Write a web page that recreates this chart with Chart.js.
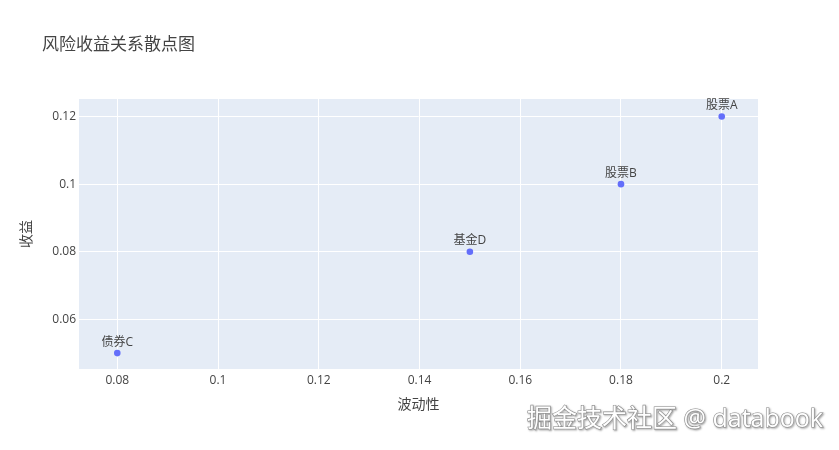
<!DOCTYPE html>
<html>
<head>
<meta charset="utf-8">
<script src="https://cdn.jsdelivr.net/npm/chart.js@4/dist/chart.umd.min.js"></script>
<style>
  html, body { margin: 0; padding: 0; background: #ffffff; }
  #wrap { width: 839px; height: 450px; position: relative; }
</style>
</head>
<body>
<div id="wrap"><canvas id="chart" width="839" height="450"></canvas></div>
<script>
// Assets: name, volatility (x) and return (y)
const assetNames = ['股票A', '股票B', '债券C', '基金D'];
const volatility = [0.20, 0.18, 0.08, 0.15];
const returns = [0.12, 0.10, 0.05, 0.08];

// Axis ticks and ranges
const xTicks = [0.08, 0.10, 0.12, 0.14, 0.16, 0.18, 0.20];
const yTicks = [0.06, 0.08, 0.10, 0.12];
const xRange = [0.0724, 0.2072];
const yRange = [0.0453, 0.1252];

const chartTitle = '风险收益关系散点图';
const xTitle = '波动性';
const yTitle = '收益';
const watermark = '掘金技术社区 @ databook';

const FONT = '"Open Sans", "Noto Sans CJK SC", sans-serif';
const TEXT = '#444444';

const points = volatility.map((v, i) => ({ x: v, y: returns[i] }));

const decorPlugin = {
  id: 'decor',
  beforeDraw(chart) {
    const { ctx, chartArea: a } = chart;
    ctx.save();
    ctx.fillStyle = '#E5ECF6';
    ctx.fillRect(a.left, a.top, a.right - a.left, a.bottom - a.top);
    ctx.restore();
  },
  afterDatasetsDraw(chart) {
    const { ctx } = chart;
    const meta = chart.getDatasetMeta(0);
    ctx.save();
    ctx.font = '12px ' + FONT;
    ctx.fillStyle = TEXT;
    ctx.textAlign = 'center';
    ctx.textBaseline = 'bottom';
    meta.data.forEach((pt, i) => {
      ctx.fillText(assetNames[i], pt.x, pt.y - 5);
    });
    ctx.restore();
  },
  afterDraw(chart) {
    const { ctx } = chart;
    ctx.save();
    // chart title
    ctx.font = '17px ' + FONT;
    ctx.fillStyle = TEXT;
    ctx.textAlign = 'left';
    ctx.textBaseline = 'middle';
    ctx.fillText(chartTitle, 42, 45);
    // watermark
    ctx.font = '25px ' + FONT;
    ctx.textAlign = 'right';
    ctx.textBaseline = 'middle';
    ctx.shadowColor = 'rgba(0,0,0,0.45)';
    ctx.shadowBlur = 2;
    ctx.shadowOffsetX = 1;
    ctx.shadowOffsetY = 1;
    ctx.lineWidth = 1.2;
    ctx.strokeStyle = '#8a8a8a';
    ctx.strokeText(watermark, 823, 420);
    ctx.shadowColor = 'transparent';
    ctx.fillStyle = '#ffffff';
    ctx.fillText(watermark, 823, 420);
    ctx.restore();
  }
};

new Chart(document.getElementById('chart'), {
  type: 'scatter',
  data: {
    datasets: [{
      data: points,
      backgroundColor: '#636efa',
      borderWidth: 0,
      pointRadius: 3.3,
      pointHoverRadius: 3.3
    }]
  },
  options: {
    responsive: false,
    animation: false,
    events: [],
    layout: { padding: { top: 99, right: 81, bottom: 0, left: 0 } },
    plugins: {
      legend: { display: false },
      tooltip: { enabled: false },
      title: { display: false }
    },
    scales: {
      x: {
        type: 'linear',
        min: xRange[0],
        max: xRange[1],
        afterBuildTicks: s => { s.ticks = xTicks.map(v => ({ value: v })); },
        afterFit: s => { s.height = 81; },
        grid: { color: '#ffffff', lineWidth: 1, drawTicks: false },
        border: { display: false },
        ticks: {
          padding: 4,
          color: TEXT,
          font: { family: FONT, size: 12 },
          maxRotation: 0,
          callback: v => String(+v.toFixed(4))
        },
        title: {
          display: true,
          text: xTitle,
          color: TEXT,
          font: { family: FONT, size: 14 },
          padding: { top: 0, bottom: 36.6 }
        }
      },
      y: {
        type: 'linear',
        min: yRange[0],
        max: yRange[1],
        afterBuildTicks: s => { s.ticks = yTicks.map(v => ({ value: v })); },
        afterFit: s => { s.width = 79; },
        grid: { color: '#ffffff', lineWidth: 1, drawTicks: false },
        border: { display: false },
        ticks: {
          padding: 3,
          color: TEXT,
          font: { family: FONT, size: 12 },
          callback: v => String(+v.toFixed(4))
        },
        title: {
          display: true,
          text: yTitle,
          color: TEXT,
          font: { family: FONT, size: 14 },
          padding: { top: 18.6, bottom: 0 }
        }
      }
    }
  },
  plugins: [decorPlugin]
});
</script>
</body>
</html>
